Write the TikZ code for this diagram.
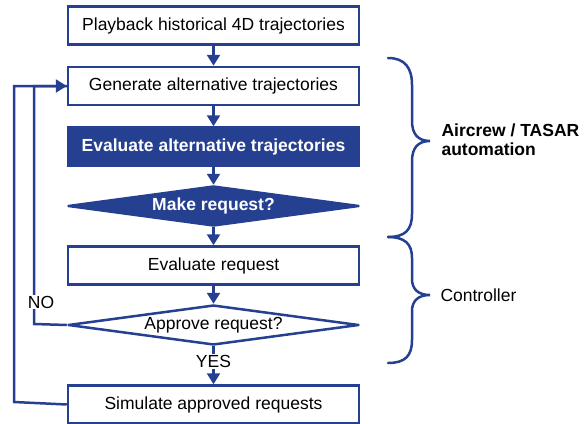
\documentclass[tikz,border=0pt]{standalone}
\usepackage{fontspec}
\setmainfont{Liberation Sans}
\usetikzlibrary{positioning}
\usetikzlibrary{shapes.geometric}
\usetikzlibrary{arrows.meta}
\definecolor{flowblue}{RGB}{38,64,145}
\newcommand{\flowfont}{\fontsize{17.5}{20}\selectfont}
\tikzset{
node distance = 20pt,
   box/.style = {%
    shape=rectangle,
    draw=flowblue,
    line width=2.5pt,
    fill=white,
    minimum width=291pt,
    minimum height=38pt,
    align=center},
 boxdark/.style = {%
    box,
    fill=flowblue,
    text=white,
    font=\flowfont\bfseries},
 decision/.style = {%
    shape=diamond,
    aspect=7,
    inner sep=0pt,
    draw=flowblue,
    line width=2.5pt,
    line join=round,
    fill=white,
    minimum width=291pt,
    minimum height=40pt},
 arrow/.style = {%
    draw=flowblue,
    line width=2.5pt,
    -{Triangle[length=11pt,width=13pt]}},% <-- flow arrows
 line/.style = {%
    draw=flowblue,
    line width=2.5pt},
 bracket/.style = {%
    draw=flowblue,
    line width=2.5pt,
    line cap=round},
    }

\begin{document}
\begin{tikzpicture}[x=1pt,y=-1pt,font=\flowfont]
    \useasboundingbox (0,0) rectangle (586,423);
    \node[box] (playback) at (213.5,25.5) {Playback historical 4D trajectories};
    \node[box, below=of playback] (generate) {Generate alternative trajectories};
    \node[boxdark, below=of generate] (evalalt) {Evaluate alternative trajectories};
    \node[decision, below=18pt of evalalt, fill=flowblue, text=white, font=\flowfont\bfseries] (makereq) {Make request?};
    \node[box, below=18pt of makereq] (evalreq) {Evaluate request};
    \node[decision, below=18pt of evalreq] (approve) {Approve request?};
    \node[box, below=38pt of approve] (simulate) {Simulate approved requests};

    \draw[arrow] (playback) -- (generate);
    \draw[arrow] (generate) -- (evalalt);
    \draw[arrow] (evalalt) -- (makereq);
    \draw[arrow] (makereq) -- (evalreq);
    \draw[arrow] (evalreq) -- (approve);
    \draw[arrow] (approve) -- node[pos=0.4, fill=white, inner sep=1pt] (yes) {YES} (simulate);
    % loops back
    \draw[line] (approve.west) -- (34,324) coordinate (noturn) |- (generate.west);
    \draw[arrow] (simulate.west) -- (14,402) coordinate (simturn) |- (generate.west);
    \node[fill=white, inner sep=1pt] (no) at (41,302) {NO};

    % braces
    \draw[bracket] (388,58) .. controls (405,58) and (412,68) .. (412,85) -- (412,121)
        .. controls (412,134) and (418,141) .. (430,141)
        .. controls (418,141) and (412,148) .. (412,161) -- (412,214)
        .. controls (412,230) and (405,237) .. (388,237);
    \draw[bracket] (388,237) .. controls (405,237) and (412,244) .. (412,258) -- (412,279)
        .. controls (412,289) and (418,295) .. (430,295)
        .. controls (418,295) and (412,301) .. (412,311) -- (412,340)
        .. controls (412,356) and (405,363) .. (388,363);
    \node[anchor=west, align=left, font=\fontsize{17.5}{19}\selectfont\bfseries] (crew) at (438,140) {Aircrew / TASAR\\automation};
    \node[anchor=west] (ctrl) at (437,295) {Controller};
\end{tikzpicture}
\end{document}
